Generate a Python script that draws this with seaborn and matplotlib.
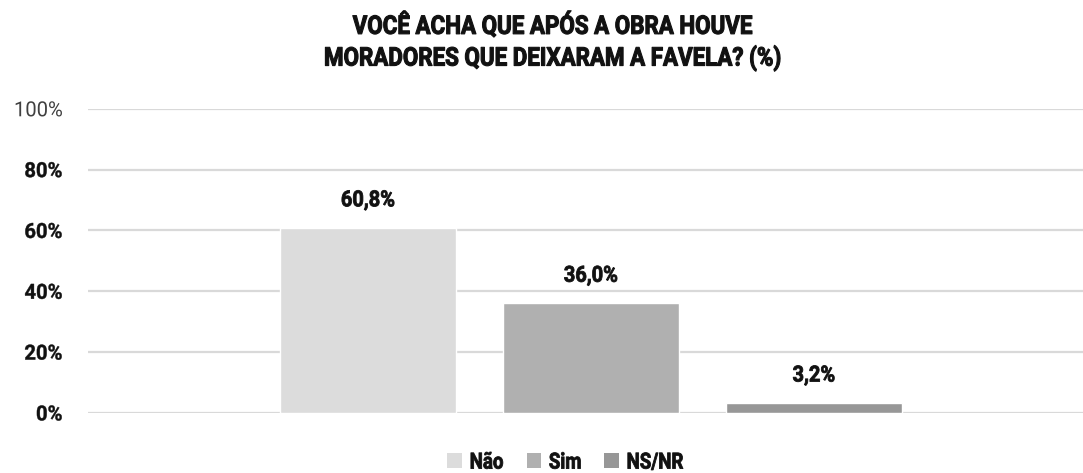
import matplotlib
matplotlib.use("Agg")
import matplotlib.pyplot as plt
from matplotlib.patches import Patch
from matplotlib.patheffects import AbstractPathEffect
from matplotlib.transforms import Affine2D
import seaborn as sns
import pandas as pd

categories = ["Não", "Sim", "NS/NR"]
values = [60.8, 36.0, 3.2]
value_labels = ["60,8%", "36,0%", "3,2%"]
tick_values = [0, 20, 40, 60, 80, 100]
tick_labels = ["0%", "20%", "40%", "60%", "80%", "100%"]
colors = ["#dcdcdc", "#b0b0b0", "#979797"]
title = "VOCÊ ACHA QUE APÓS A OBRA HOUVE\nMORADORES QUE DEIXARAM A FAVELA? (%)"


class Condense(AbstractPathEffect):
    """Squeeze text horizontally (with optional outline) to mimic a condensed heavy face."""

    def __init__(self, sx=0.87, anchor="center", stroke=0.0):
        super().__init__()
        self.sx = sx
        self.anchor = anchor
        self.stroke = stroke

    def draw_path(self, renderer, gc, tpath, affine, rgbFace=None):
        verts = affine.transform(tpath.vertices)
        if len(verts) == 0:
            return
        x0, x1 = verts[:, 0].min(), verts[:, 0].max()
        if self.anchor == "center":
            cx = 0.5 * (x0 + x1)
        elif self.anchor == "right":
            cx = x1
        else:
            cx = x0
        squeeze = Affine2D().translate(-cx, 0).scale(self.sx, 1).translate(cx, 0)
        tr = affine + squeeze
        if self.stroke > 0 and rgbFace is not None:
            gc0 = renderer.new_gc()
            gc0.copy_properties(gc)
            gc0.set_linewidth(self.stroke)
            gc0.set_foreground(rgbFace)
            renderer.draw_path(gc0, tpath, tr, rgbFace)
            gc0.restore()
        else:
            renderer.draw_path(gc, tpath, tr, rgbFace)


sns.set_theme(style="white")
plt.rcParams["font.family"] = ["Roboto", "DejaVu Sans"]

df = pd.DataFrame({"cat": categories, "val": values})

fig = plt.figure(figsize=(10.83, 4.73), dpi=100)
ax = fig.add_axes([0.081, 0.127, 0.919, 0.643])

sns.barplot(data=df, x="cat", y="val", hue="cat", palette=colors,
            order=categories, hue_order=categories, width=0.79,
            dodge=False, legend=False, ax=ax, saturation=1)

ax.set_ylim(0, 100)
ax.set_xlim(-1.256, 3.206)
ax.set_yticks(tick_values)
ax.set_yticklabels(tick_labels)
for lbl in ax.get_yticklabels():
    if lbl.get_text() == "100%":
        lbl.set_fontweight("normal")
        lbl.set_color("#404040")
        lbl.set_path_effects([Condense(0.97, "right")])
    else:
        lbl.set_fontweight("bold")
        lbl.set_color("#111111")
        lbl.set_path_effects([Condense(0.97, "right", stroke=0.3)])
    lbl.set_fontsize(15)
ax.tick_params(axis="y", length=0, pad=18)
ax.set_xticks([])
ax.set_xlabel("")
ax.set_ylabel("")
ax.yaxis.grid(True, color="#d9d9d9", linewidth=1.6)
ax.set_axisbelow(True)
for s in ax.spines.values():
    s.set_visible(False)

for i, (v, t) in enumerate(zip(values, value_labels)):
    ax.annotate(t, xy=(i, v), xytext=(0, 12), textcoords="offset points",
                ha="center", va="bottom", fontsize=16, fontweight="bold",
                color="#111111", path_effects=[Condense(0.9, "center", stroke=0.6)])

fig.text(0.511, 0.975, title, ha="center", va="top", fontsize=18.5,
         fontweight="bold", color="#111111", linespacing=1.3,
         path_effects=[Condense(0.87, "center", stroke=0.8)])

handles = [Patch(facecolor=c, edgecolor="none") for c in colors]
leg = fig.legend(handles, categories, loc="center", bbox_to_anchor=(0.527, 0.022),
                 ncol=3, frameon=False, handlelength=0.65, handleheight=0.65,
                 handletextpad=0.35, columnspacing=0.75,
                 prop={"size": 16, "weight": "bold"})
for txt in leg.get_texts():
    txt.set_color("#111111")
    txt.set_path_effects([Condense(0.84, "left", stroke=0.6)])

fig.savefig("out.png", dpi=100, facecolor="white")
